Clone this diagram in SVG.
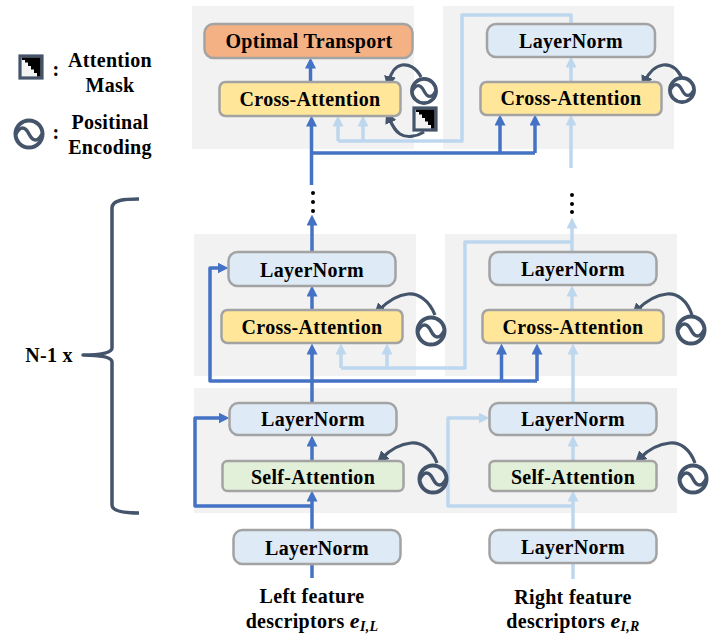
<svg xmlns="http://www.w3.org/2000/svg" width="722" height="643" viewBox="0 0 722 643">
<style>
.panel{fill:#F2F2F2}
.box{stroke:#A3A3A3;stroke-width:2.5}
.blue{fill:#DEEAF6}.yellow{fill:#FFE699}.green{fill:#E2F0D9}.orange{fill:#F4B183}
text{font-family:"Liberation Serif","Times New Roman",serif;font-weight:bold;fill:#000;text-anchor:middle}
.lbl{font-size:20px;letter-spacing:.3px}
.dark,.light,.enc,.brace{fill:none;stroke-linejoin:round}
.dark{stroke:#4472C4;stroke-width:3.5}
.light{stroke:#BDD7EE;stroke-width:3.5}
.enc{stroke:#44546A;stroke-width:3.2}
.brace{stroke:#44546A;stroke-width:3.5}
.dk{marker-end:url(#hd)}.lt{marker-end:url(#hl)}.ek{marker-end:url(#he)}
.sup{font-size:14px;font-style:italic}
</style>
<defs>
<marker id="hd" viewBox="0 0 10 10" refX="5" refY="5" markerWidth="11" markerHeight="11" markerUnits="userSpaceOnUse" orient="auto"><path d="M0 0L10 5L0 10Z" fill="#4472C4"/></marker>
<marker id="hl" viewBox="0 0 10 10" refX="5" refY="5" markerWidth="11" markerHeight="11" markerUnits="userSpaceOnUse" orient="auto"><path d="M0 0L10 5L0 10Z" fill="#BDD7EE"/></marker>
<marker id="he" viewBox="0 0 10 10" refX="4" refY="5" markerWidth="12" markerHeight="12" markerUnits="userSpaceOnUse" orient="auto"><path d="M0 0L10 5L0 10Z" fill="#44546A"/></marker>
<g id="pe"><circle r="13.500" fill="none" stroke="#44546A" stroke-width="4"/><path d="M-13 0C-9 -8 -4 -8 0 0S9 8 13 0" fill="none" stroke="#44546A" stroke-width="3.500"/></g>
<g id="mask"><rect x="-11" y="-11" width="22" height="22" fill="#F2F2F2" stroke="#44546A" stroke-width="3.2"/><path d="M-9 -9.500H9.500V9.500H6V6H3V2.500H0V-1H-3V-4.500H-6V-7H-9Z" fill="#000"/></g>
</defs>

<g id="panels">
<rect class="panel" x="192" y="6" width="222" height="143"/>
<rect class="panel" x="443" y="6" width="231" height="143"/>
<rect class="panel" x="194" y="234" width="222" height="142"/>
<rect class="panel" x="445" y="234" width="232" height="142"/>
<rect class="panel" x="194" y="388" width="483" height="125"/>
</g>

<g id="connectors">
<path class="dark dk" d="M310.500 82V63"/>
<path class="dark dk" d="M311.500 185V121"/>
<path class="dark" d="M311.500 153H535"/>
<path class="dark dk" d="M500 153V120"/>
<path class="dark dk" d="M535 153V120"/>
<path class="light lt" d="M571 168V120"/>
<path class="light lt" d="M571 82V62"/>
<path class="light" d="M571 24V15H462V141H338"/>
<path class="light lt" d="M338 141V121"/>
<path class="light lt" d="M363 141V121"/>

<path class="dark dk" d="M312 252V220"/>
<path class="light lt" d="M572 252V223"/>
<path class="light" d="M572 242H465V368H341"/>
<path class="light lt" d="M341 368V349"/>
<path class="light lt" d="M387 368V349"/>
<path class="dark dk" d="M312 310V291"/>
<path class="light lt" d="M572 310V291"/>
<path class="dark dk" d="M312 403V349"/>
<path class="light lt" d="M573 403V349"/>
<path class="dark dk" d="M537 381H210V268H223"/>
<path class="dark dk" d="M501.500 381V349"/>
<path class="dark dk" d="M537 381V349"/>

<path class="dark dk" d="M312 461V441"/>
<path class="light lt" d="M573 461V441"/>
<path class="dark dk" d="M312 530V496"/>
<path class="light lt" d="M573 530V496"/>
<path class="dark dk" d="M312 506H195V418H224"/>
<path class="light lt" d="M573 506H448V418H484"/>
<path class="dark" d="M312 564V578"/>
<path class="light" d="M573 563V579"/>

<path class="enc ek" d="M421 77C416 67 408 64 402 65C396 66 391 72 389 81"/>
<path class="enc ek" d="M424 132C416 137 406 138 400 134C395 131 392 125 389 118"/>
<path class="enc ek" d="M682 78C677 68 670 64 663 65C656 66 649 72 645 81"/>
<path class="enc ek" d="M435 315C429 300 418 293 408 294C397 295 387 302 379 310"/>
<path class="enc ek" d="M692 315C687 300 677 293 667 294C656 295 645 302 637 310"/>
<path class="enc ek" d="M437 463C432 449 421 442 411 443C400 444 390 450 382 458"/>
<path class="enc ek" d="M695 463C690 449 680 442 670 443C659 444 648 450 640 458"/>
</g>

<g id="encodings">
<use href="#pe" transform="translate(424 91) scale(.9)"/>
<use href="#mask" x="425" y="119"/>
<use href="#pe" transform="translate(682 90) scale(.9)"/>
<use href="#pe" x="431" y="331"/>
<use href="#pe" x="691" y="330"/>
<use href="#pe" x="433" y="479"/>
<use href="#pe" x="693" y="479"/>
</g>

<g id="dots" fill="#000">
<circle cx="313" cy="193" r="2"/><circle cx="313" cy="202" r="2"/><circle cx="313" cy="211" r="2"/>
<circle cx="572" cy="195" r="2"/><circle cx="572" cy="204" r="2"/><circle cx="572" cy="212" r="2"/>
</g>

<g id="optimal-transport"><rect class="box orange" x="204.500" y="24" width="208" height="34" rx="9"/><text class="lbl" x="309" y="48">Optimal Transport</text></g>
<g id="cross-tl"><rect class="box yellow" x="219.500" y="82" width="181" height="34" rx="6"/><text class="lbl" x="310" y="106">Cross-Attention</text></g>
<g id="norm-tr"><rect class="box blue" x="487" y="24" width="168" height="33" rx="9"/><text class="lbl" x="571" y="48">LayerNorm</text></g>
<g id="cross-tr"><rect class="box yellow" x="480.500" y="82" width="181" height="33" rx="6"/><text class="lbl" x="571" y="105">Cross-Attention</text></g>

<g id="norm-ml"><rect class="box blue" x="228.500" y="252" width="167" height="34" rx="9"/><text class="lbl" x="312" y="277">LayerNorm</text></g>
<g id="cross-ml"><rect class="box yellow" x="221.500" y="310" width="181" height="33" rx="6"/><text class="lbl" x="312" y="334">Cross-Attention</text></g>
<g id="norm-mr"><rect class="box blue" x="489.500" y="252" width="167" height="33" rx="9"/><text class="lbl" x="573" y="276">LayerNorm</text></g>
<g id="cross-mr"><rect class="box yellow" x="482.500" y="310" width="181" height="33" rx="6"/><text class="lbl" x="573" y="334">Cross-Attention</text></g>

<g id="norm-bl"><rect class="box blue" x="229.500" y="403" width="167" height="32" rx="9"/><text class="lbl" x="313" y="426">LayerNorm</text></g>
<g id="self-l"><rect class="box green" x="222.500" y="461" width="181" height="30" rx="5"/><text class="lbl" x="313" y="484">Self-Attention</text></g>
<g id="norm-br"><rect class="box blue" x="489.500" y="403" width="167" height="32" rx="9"/><text class="lbl" x="573" y="426">LayerNorm</text></g>
<g id="self-r"><rect class="box green" x="489.500" y="461" width="167" height="30" rx="5"/><text class="lbl" x="573" y="484">Self-Attention</text></g>

<g id="norm-in-l"><rect class="box blue" x="233.500" y="530" width="167" height="34" rx="9"/><text class="lbl" x="317" y="555">LayerNorm</text></g>
<g id="norm-in-r"><rect class="box blue" x="489.500" y="530" width="167" height="33" rx="9"/><text class="lbl" x="573" y="554">LayerNorm</text></g>

<g id="label-left"><text class="lbl" x="312" y="603">Left feature</text><text class="lbl" x="312" y="628">descriptors <tspan font-style="italic" font-size="22">e</tspan><tspan class="sup" dy="3">I,L</tspan></text></g>
<g id="label-right"><text class="lbl" x="573" y="604">Right feature</text><text class="lbl" x="573" y="628">descriptors <tspan font-style="italic" font-size="22">e</tspan><tspan class="sup" dy="3">I,R</tspan></text></g>

<g id="brace"><path class="brace" d="M139 199C124 199 112 200 112 208V348C112 353 100 355 83 355C100 355 112 357 112 362V505C112 511 124 513 139 513"/><text class="lbl" x="49" y="362">N-1 x</text></g>

<g id="legend">
<use href="#mask" x="31" y="67"/>
<text class="lbl" x="56" y="76">:</text>
<text class="lbl" x="110" y="67">Attention</text>
<text class="lbl" x="110" y="92">Mask</text>
<use href="#pe" x="29" y="134"/>
<text class="lbl" x="56" y="139">:</text>
<text class="lbl" x="110" y="129">Positinal</text>
<text class="lbl" x="110" y="154">Encoding</text>
</g>
</svg>
